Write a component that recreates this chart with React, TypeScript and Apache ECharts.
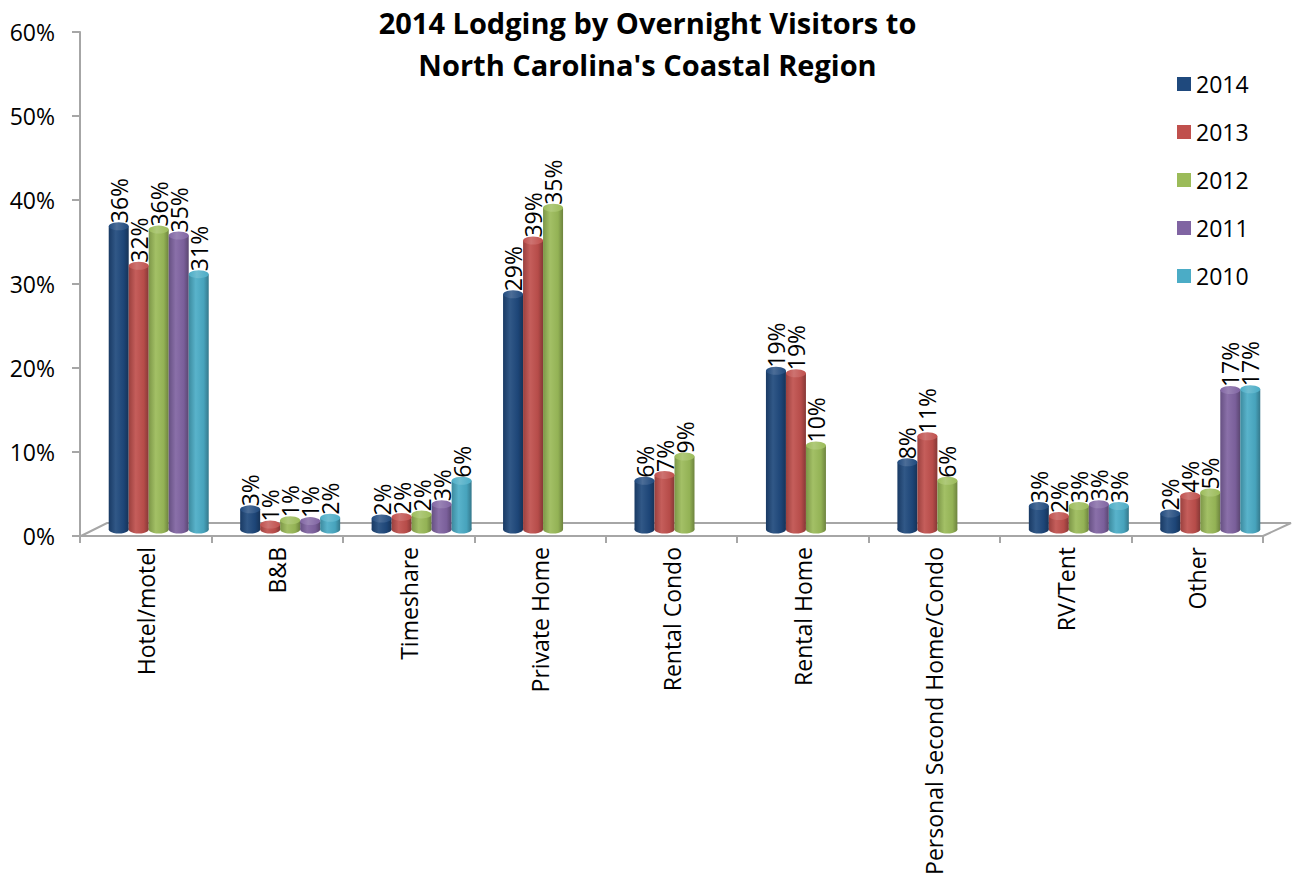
import React, { useEffect, useRef } from 'react';
import * as echarts from 'echarts';

const categories = ['Hotel/motel', 'B&B', 'Timeshare', 'Private Home', 'Rental Condo', 'Rental Home', 'Personal Second Home/Condo', 'RV/Tent', 'Other'];
const years = ['2014', '2013', '2012', '2011', '2010'];

const v2014 = [36.1, 2.4, 1.3, 28.0, 5.8, 18.9, 8.0, 2.8, 1.9];
const v2013 = [31.4, 0.6, 1.5, 34.4, 6.5, 18.6, 11.1, 1.6, 4.0];
const v2012 = [35.7, 1.1, 1.8, 38.3, 8.7, 10.0, 5.8, 2.8, 4.4];
const v2011 = [35.0, 1.0, 3.0, null, null, null, null, 3.0, 16.6];
const v2010 = [30.4, 1.4, 5.8, null, null, null, null, 2.8, 16.7];

const l2014 = ['36%', '3%', '2%', '29%', '6%', '19%', '8%', '3%', '2%'];
const l2013 = ['32%', '1%', '2%', '39%', '7%', '19%', '11%', '2%', '4%'];
const l2012 = ['36%', '1%', '2%', '35%', '9%', '10%', '6%', '3%', '5%'];
const l2011 = ['35%', '1%', '3%', '', '', '', '', '3%', '17%'];
const l2010 = ['31%', '2%', '6%', '', '', '', '', '3%', '17%'];

const yTicks = [0, 10, 20, 30, 40, 50, 60];

const seriesValues = [v2014, v2013, v2012, v2011, v2010];
const seriesLabels = [l2014, l2013, l2012, l2011, l2010];
const palette = ['#1F497D', '#C0504D', '#9BBB59', '#8064A2', '#4BACC6'];

function shade(hex: string, f: number): string {
  const n = parseInt(hex.slice(1), 16);
  let r = (n >> 16) & 255, g = (n >> 8) & 255, b = n & 255;
  if (f >= 0) {
    r = r + (255 - r) * f; g = g + (255 - g) * f; b = b + (255 - b) * f;
  } else {
    r = r * (1 + f); g = g * (1 + f); b = b * (1 + f);
  }
  const h = (v: number) => Math.round(v).toString(16).padStart(2, '0');
  return '#' + h(r) + h(g) + h(b);
}

function bodyGradient(c: string) {
  return new echarts.graphic.LinearGradient(0, 0, 1, 0, [
    { offset: 0, color: shade(c, -0.2) },
    { offset: 0.35, color: shade(c, 0.08) },
    { offset: 0.75, color: shade(c, -0.05) },
    { offset: 1, color: shade(c, -0.3) },
  ]);
}

function topGradient(c: string) {
  return new echarts.graphic.LinearGradient(0, 0, 1, 0, [
    { offset: 0, color: shade(c, 0.0) },
    { offset: 0.4, color: shade(c, 0.2) },
    { offset: 1, color: shade(c, 0.0) },
  ]);
}

const FONT = 'Open Sans';

export default function App() {
  const ref = useRef<HTMLDivElement>(null);
  useEffect(() => {
    const chart = echarts.init(ref.current as HTMLDivElement, null, { renderer: 'svg' });
    const barGrid = { left: 93, right: 19, top: 25.5, bottom: 355.5, outerBoundsMode: 'none', containLabel: false };
    const hiddenX = (gi: number) => ({ type: 'category', gridIndex: gi, data: categories, show: false });
    const hiddenY = (gi: number) => ({ type: 'value', gridIndex: gi, min: 0, max: 60, show: false });

    const series: any[] = [];
    seriesValues.forEach((vals, i) => {
      series.push({
        type: 'bar',
        name: years[i],
        xAxisIndex: 1,
        yAxisIndex: 1,
        data: vals,
        barWidth: 20,
        barGap: '0%',
        z: 3,
        itemStyle: { color: bodyGradient(palette[i]) },
        label: {
          show: true,
          position: 'top',
          distance: 5,
          rotate: 90,
          align: 'left',
          verticalAlign: 'middle',
          offset: [-2, 0],
          fontSize: 23,
          fontFamily: FONT,
          color: '#000',
          formatter: (p: any) => seriesLabels[i][p.dataIndex],
        },
      });
    });
    seriesValues.forEach((vals, i) => {
      series.push({
        type: 'pictorialBar',
        name: years[i] + ' top',
        xAxisIndex: 2,
        yAxisIndex: 2,
        data: vals,
        symbol: 'circle',
        symbolSize: [20, 8],
        symbolPosition: 'end',
        symbolOffset: [0, '-50%'],
        barWidth: 20,
        barGap: '0%',
        z: 4,
        silent: true,
        itemStyle: { color: topGradient(palette[i]) },
      });
    });
    seriesValues.forEach((vals, i) => {
      series.push({
        type: 'pictorialBar',
        name: years[i] + ' base',
        xAxisIndex: 3,
        yAxisIndex: 3,
        data: vals,
        symbol: 'circle',
        symbolSize: [20, 8],
        symbolPosition: 'start',
        symbolOffset: [0, '50%'],
        barWidth: 20,
        barGap: '0%',
        z: 2,
        silent: true,
        itemStyle: { color: bodyGradient(palette[i]) },
      });
    });

    const option: any = {
      animation: false,
      backgroundColor: '#fff',
      textStyle: { fontFamily: FONT },
      title: {
        text: "2014 Lodging by Overnight Visitors to\nNorth Carolina's Coastal Region",
        left: 'center',
        top: 1,
        padding: 0,
        textStyle: { fontFamily: FONT, fontSize: 29, fontWeight: 'bold', color: '#000', lineHeight: 42 },
      },
      legend: {
        orient: 'vertical',
        left: 1172,
        top: 67,
        itemWidth: 14,
        itemHeight: 14,
        itemGap: 24,
        icon: 'rect',
        textStyle: { fontFamily: FONT, fontSize: 23, color: '#000', lineHeight: 24 },
        data: years.map((y, i) => ({ name: y, itemStyle: { color: palette[i] } })),
      },
      grid: [
        { left: 80, right: 32, top: 32, bottom: 349, outerBoundsMode: 'none', containLabel: false },
        barGrid,
        barGrid,
        barGrid,
      ],
      xAxis: [
        {
          type: 'category',
          gridIndex: 0,
          data: categories,
          axisLine: { show: true, lineStyle: { color: '#a6a6a6', width: 2 } },
          axisTick: { show: true, length: 7, lineStyle: { color: '#a6a6a6', width: 2 } },
          axisLabel: { rotate: 90, fontSize: 23, fontFamily: FONT, color: '#000', margin: 11, interval: 0 },
        },
        hiddenX(1),
        hiddenX(2),
        hiddenX(3),
      ],
      yAxis: [
        {
          type: 'value',
          gridIndex: 0,
          min: yTicks[0],
          max: yTicks[yTicks.length - 1],
          interval: 10,
          splitLine: { show: false },
          axisLine: { show: true, lineStyle: { color: '#a6a6a6', width: 2 } },
          axisTick: { show: true, length: 8, lineStyle: { color: '#a6a6a6', width: 2 } },
          axisLabel: { fontSize: 23, fontFamily: FONT, color: '#000', margin: 25, formatter: '{value}%' },
        },
        hiddenY(1),
        hiddenY(2),
        hiddenY(3),
      ],
      graphic: [
        {
          type: 'polyline',
          z: 0,
          silent: true,
          shape: { points: [[81, 536], [107, 523], [1291, 523], [1263, 536]] },
          style: { stroke: '#a6a6a6', lineWidth: 2, fill: null },
        },
      ],
      series,
    };
    chart.setOption(option);
    return () => chart.dispose();
  }, []);
  return <div ref={ref} style={{ position: 'fixed', left: 0, top: 0, width: 1295, height: 885, background: '#fff' }} />;
}
